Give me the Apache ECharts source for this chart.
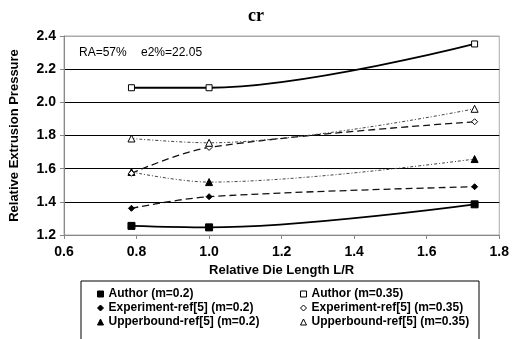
<!DOCTYPE html>
<html>
<head>
<meta charset="utf-8">
<script src="https://cdn.jsdelivr.net/npm/echarts@6/dist/echarts.min.js"></script>
<style>html,body{margin:0;padding:0;background:#fff}#c{width:512px;height:339px}</style>
</head>
<body>
<div id="c"></div>
<script>
var dieLength = [0.786, 1.0, 1.732];
var authorM02 = [1.255, 1.246, 1.385];
var authorM035 = [2.088, 2.088, 2.352];
var expM02 = [1.361, 1.431, 1.491];
var expM035 = [1.572, 1.728, 1.883];
var ubM02 = [1.580, 1.519, 1.658];
var ubM035 = [1.782, 1.756, 1.961];
var xTicks = [0.6, 0.8, 1.0, 1.2, 1.4, 1.6, 1.8];
var yTicks = [1.2, 1.4, 1.6, 1.8, 2.0, 2.2, 2.4];

function pairs(ys){ return dieLength.map(function(x,i){return [x, ys[i]];}); }

var FONT = 'Liberation Sans, Arial, sans-serif';
var filled = {color:'#000', borderColor:'#000', borderWidth:1};
var open = {color:'#fff', borderColor:'#000', borderWidth:1};

function ser(name, ys, symbol, size, item, line){
  return {
    name: name, type:'line', data: pairs(ys), smooth: 0.35,
    symbol: symbol, symbolSize: size, showSymbol:true,
    itemStyle: item, lineStyle: line, z: 3
  };
}

var series = [
  ser('Author (m=0.2)', authorM02, 'rect', 7, filled, {color:'#000', width:1.8, type:'solid'}),
  ser('Experiment-ref[5] (m=0.2)', expM02, 'diamond', 6, filled, {color:'#111', width:1.3, type:[7,4]}),
  ser('Upperbound-ref[5] (m=0.2)', ubM02, 'triangle', 7, filled, {color:'#444', width:1, type:[3,2,1,2]}),
  ser('Author (m=0.35)', authorM035, 'rect', 6, open, {color:'#000', width:1.8, type:'solid'}),
  ser('Experiment-ref[5] (m=0.35)', expM035, 'diamond', 6, open, {color:'#111', width:1.3, type:[7,4]}),
  ser('Upperbound-ref[5] (m=0.35)', ubM035, 'triangle', 7, open, {color:'#444', width:1, type:[3,2,1,2]})
];

function legendItem(name, icon, st){ return {name:name, icon:icon, itemStyle:st}; }
var legendText = {fontFamily:FONT, fontWeight:'bold', fontSize:12, color:'#000', lineHeight:12};

var chart = echarts.init(document.getElementById('c'), null, {renderer:'canvas'});
chart.setOption({
  animation:false,
  backgroundColor:'#fff',
  title:{text:'cr', left:'center', top:2, textStyle:{fontFamily:'Liberation Serif, Times New Roman, serif', fontWeight:'bold', fontSize:18, color:'#000'}},
  grid:{left:59, right:11, top:36, bottom:104, show:true, borderColor:'#aaa', borderWidth:1, backgroundColor:'transparent'},
  xAxis:{
    type:'value', min:xTicks[0], max:xTicks[xTicks.length-1], interval:0.2,
    name:'Relative Die Length L/R', nameLocation:'middle', nameGap:26,
    nameTextStyle:{fontFamily:FONT, fontWeight:'bold', fontSize:13, color:'#000'},
    axisLine:{show:true, lineStyle:{color:'#888', width:1}},
    axisTick:{show:true, length:4, lineStyle:{color:'#888'}},
    axisLabel:{fontFamily:FONT, fontWeight:'bold', fontSize:14, color:'#000', margin:10, formatter:function(v){return v.toFixed(1);}},
    splitLine:{show:false}
  },
  yAxis:{
    type:'value', min:yTicks[0], max:yTicks[yTicks.length-1], interval:0.2,
    name:'Relative Extrusion Pressure', nameLocation:'middle', nameGap:43,
    nameTextStyle:{fontFamily:FONT, fontWeight:'bold', fontSize:13, color:'#000'},
    axisLine:{show:true, lineStyle:{color:'#888', width:1}},
    axisTick:{show:true, length:4, lineStyle:{color:'#888'}},
    axisLabel:{fontFamily:FONT, fontWeight:'bold', fontSize:14, color:'#000', margin:8, formatter:function(v){return v.toFixed(1);}},
    splitLine:{show:true, lineStyle:{color:['#888','#000','#000','#000','#000','#000','#aaa'], width:1}}
  },
  legend:[
    {orient:'vertical', left:92, top:283, itemWidth:6, itemHeight:6, itemGap:2, textStyle:legendText, selectedMode:false,
     data:[legendItem('Author (m=0.2)','rect',filled), legendItem('Experiment-ref[5] (m=0.2)','diamond',filled), legendItem('Upperbound-ref[5] (m=0.2)','triangle',filled)]},
    {orient:'vertical', left:295, top:283, itemWidth:6, itemHeight:6, itemGap:2, textStyle:legendText, selectedMode:false,
     data:[legendItem('Author (m=0.35)','rect',open), legendItem('Experiment-ref[5] (m=0.35)','diamond',open), legendItem('Upperbound-ref[5] (m=0.35)','triangle',open)]}
  ],
  graphic:[
    {type:'rect', shape:{x:81, y:281, width:398, height:70}, style:{fill:'none', stroke:'#000', lineWidth:1}, silent:true},
    {type:'text', left:79, top:47, style:{text:'RA=57%', font:'12px '+FONT, fill:'#000'}},
    {type:'text', left:141, top:47, style:{text:'e2%=22.05', font:'12px '+FONT, fill:'#000'}}
  ],
  series: series
});
</script>
</body>
</html>
